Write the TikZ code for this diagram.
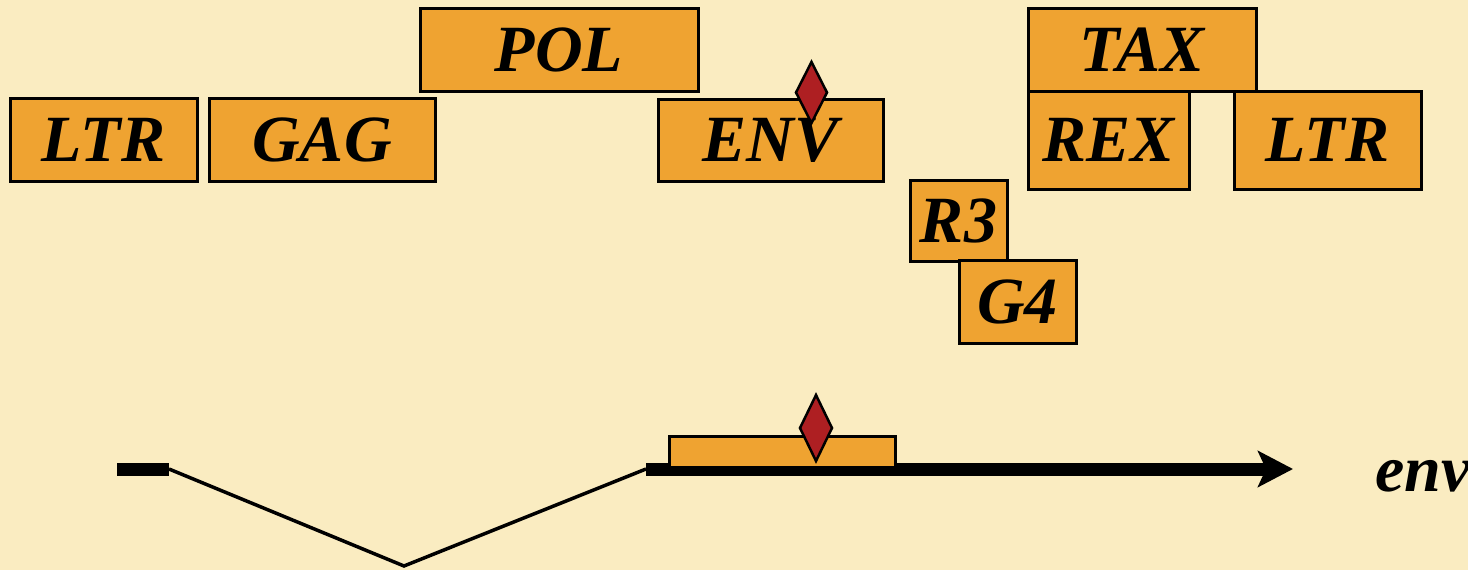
\documentclass[tikz,border=0pt]{standalone}
\usepackage{fontspec}
\setmainfont{Liberation Serif}
\usetikzlibrary{arrows.meta}
\definecolor{paper}{RGB}{250,236,193}
\definecolor{geneorange}{RGB}{239,163,49}
\definecolor{sitered}{RGB}{174,31,34}
\tikzset{
  gene/.style={draw=black,fill=geneorange,line width=3pt,inner sep=0pt,
    font=\fontsize{66}{66}\selectfont\bfseries\itshape},
  site/.style={draw=black,fill=sitered,line width=2.5pt,line join=miter},
  exon/.style={line width=13pt},
  splice/.style={line width=3.5pt}
}
\begin{document}
\begin{tikzpicture}[x=1pt,y=-1pt]
            \useasboundingbox (0,0) rectangle (1468,570);
            \fill[paper] (0,0) rectangle (1468,570);
            % genome
            \node[gene,minimum width=187pt,minimum height=83pt] (ltrA) at (103.5,139.5) {LTR};
            \node[gene,minimum width=226pt,minimum height=83pt] (gag) at (322,139.5) {GAG};
            \node[gene,minimum width=278pt,minimum height=83pt] (pol) at (559,49.5) {POL};
            \node[gene,minimum width=225pt,minimum height=82pt] (env) at (770.5,140) {ENV};
            \node[gene,minimum width=97pt,minimum height=81pt] (rthree) at (958.5,220.5) {R3};
            \node[gene,minimum width=117pt,minimum height=83pt] (gfour) at (1017.5,301.5) {G4};
            \node[gene,minimum width=228pt,minimum height=83pt] (tax) at (1142,49.5) {TAX};
            \node[gene,minimum width=161pt,minimum height=98pt] (rex) at (1108.5,140) {REX};
            \node[gene,minimum width=187pt,minimum height=98pt] (ltrB) at (1327.5,140) {LTR};
            \draw[site] (811.5,62) -- (827,92.5) -- (811.5,123) -- (796,92.5) -- cycle;
            % spliced env transcript
            \coordinate (exA) at (117,469);
            \coordinate (exB) at (169,469);
            \coordinate (exC) at (646,469);
            \coordinate (tip) at (1293,469);
            \coordinate (dip) at (404,566);
            \draw[exon] (exA) -- (exB);
            \draw[splice] (exB) -- (dip) -- (exC);
            \draw[exon,-{Stealth[length=35pt,width=36pt,inset=8pt]}] (exC) -- (tip);
            \node[gene,minimum width=226pt,minimum height=31pt] (envbox) at (782,451.5) {};
            \draw[site] (816,395) -- (832,428) -- (816,461) -- (800,428) -- cycle;
            \node[anchor=base west,inner sep=0pt,font=\fontsize{66}{66}\selectfont\bfseries\itshape] (envlabel) at (1375,491) {env};
        \end{tikzpicture}
\end{document}
